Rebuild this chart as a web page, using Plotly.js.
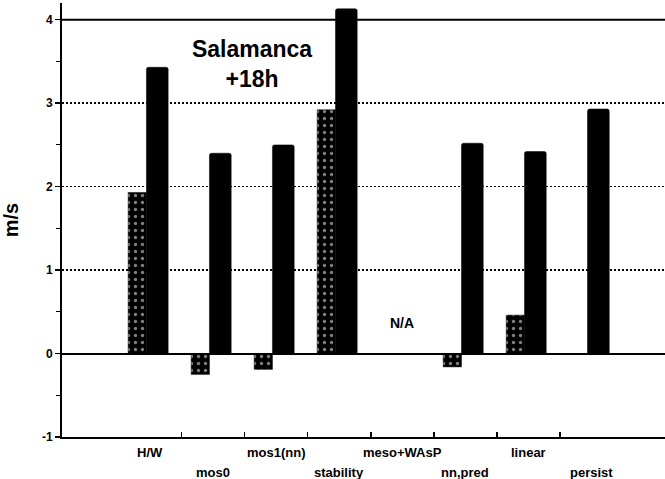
<!DOCTYPE html>
<html>
<head>
<meta charset="utf-8">
<script src="https://cdn.plot.ly/plotly-3.0.1.min.js"></script>
<style>html,body{margin:0;padding:0;background:#fff}#chart{width:665px;height:479px}</style>
</head>
<body>
<div id="chart"></div>
<script>
const categories = ["H/W", "mos0", "mos1(nn)", "stability", "meso+WAsP", "nn,pred", "linear", "persist"];
const dottedValues = [1.93, -0.25, -0.19, 2.92, null, -0.16, 0.46, null];
const solidValues = [3.43, 2.40, 2.50, 4.13, null, 2.52, 2.42, 2.93];
const yTickVals = [-1, 0, 1, 2, 3, 4];
const yTickText = ["-1", "0", "1", "2", "3", "4"];
const boundaryTicks = [0.5, 1.5, 2.5, 3.5, 4.5, 5.5, 6.5];
const naCategory = "meso+WAsP";

const FONT = "Liberation Sans, Arial, Helvetica, sans-serif";

const traces = [
  {
    type: "bar", x: categories, y: dottedValues, name: "dotted",
    width: 0.29, offset: -0.35,
    marker: {
      color: "black",
      line: {color: "black", width: 0.5},
      pattern: {shape: ".", fillmode: "overlay", fgcolor: "white", bgcolor: "black", size: 7, solidity: 0.18}
    },
    hoverinfo: "skip"
  },
  {
    type: "bar", x: categories, y: solidValues, name: "solid",
    width: 0.345, offset: -0.06,
    marker: {color: "black", line: {color: "black", width: 0.5}, cornerradius: 2},
    hoverinfo: "skip"
  },
  {
    type: "scatter", x: [], y: [], xaxis: "x2", yaxis: "y", showlegend: false, hoverinfo: "skip"
  }
];

const annotations = categories.map((c, i) => ({
  x: c, xref: "x", y: 0, yref: "paper", yanchor: "top",
  yshift: i % 2 === 0 ? -6 : -26,
  text: c, showarrow: false,
  font: {family: FONT, size: 13, color: "black", weight: "bold"}
}));
annotations.push({
  x: naCategory, xref: "x", y: 0.36, yref: "y", text: "N/A", showarrow: false,
  font: {family: FONT, size: 14, color: "black", weight: "bold"}
});

const layout = {
  width: 665, height: 479,
  margin: {l: 62, r: 0, t: 3, b: 42},
  paper_bgcolor: "white", plot_bgcolor: "white",
  showlegend: false,
  barmode: "overlay",
  title: {
    text: "Salamanca<br>+18h",
    x: 252 / 665, xanchor: "center", y: 1 - 57 / 479, yanchor: "top",
    font: {family: FONT, size: 23, color: "black", weight: "bold"}
  },
  xaxis: {
    type: "category", categoryorder: "array", categoryarray: categories,
    range: [-1.4, 8.17],
    showticklabels: false, ticks: "", showgrid: false, zeroline: false,
    showline: true, linecolor: "black", linewidth: 2,
    fixedrange: true
  },
  xaxis2: {
    overlaying: "x", anchor: "y", side: "bottom", range: [-1.4, 8.17],
    tickmode: "array", tickvals: boundaryTicks, ticks: "inside", ticklen: 5, tickwidth: 1.5, tickcolor: "black",
    showticklabels: false, showgrid: false, zeroline: false, showline: false
  },
  yaxis: {
    range: [-1, 4.2],
    tickmode: "array", tickvals: yTickVals, ticktext: yTickText,
    ticks: "outside", ticklen: 5, tickwidth: 1.5, tickcolor: "black",
    minor: {tickvals: [-0.5, 0.5, 1.5, 2.5, 3.5], ticks: "outside", ticklen: 4, tickwidth: 1.2, tickcolor: "black", showgrid: false},
    tickfont: {family: FONT, size: 12, color: "black", weight: "bold"},
    showgrid: true, gridcolor: "black", gridwidth: 1.5, griddash: "2px,2px",
    zeroline: true, zerolinecolor: "black", zerolinewidth: 2,
    showline: true, linecolor: "black", linewidth: 2,
    title: {text: "m/s", standoff: 18, font: {family: FONT, size: 20, color: "black", weight: "bold"}},
    fixedrange: true
  },
  shapes: [
    {type: "line", xref: "paper", x0: 0, x1: 1, yref: "y", y0: 4, y1: 4, line: {color: "black", width: 2}, layer: "below"}
  ],
  annotations: annotations
};

Plotly.newPlot("chart", traces, layout, {displayModeBar: false, staticPlot: true});
</script>
</body>
</html>
